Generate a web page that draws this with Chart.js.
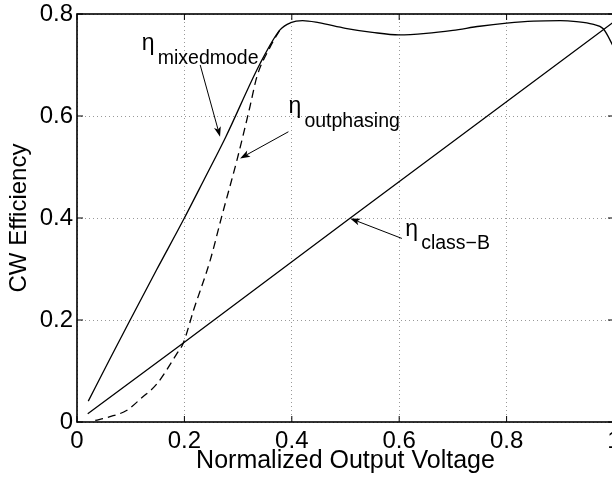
<!DOCTYPE html>
<html>
<head>
<meta charset="utf-8">
<script src="https://cdn.jsdelivr.net/npm/chart.js@4.4.1/dist/chart.umd.min.js"></script>
<style>
  html, body { margin: 0; padding: 0; background: #fff; overflow: hidden; }
  #wrap { width: 622px; height: 480px; }
</style>
</head>
<body>
<div id="wrap"><canvas id="chart" width="622" height="480"></canvas></div>
<script>
const FONT = '"Liberation Sans", Arial, Helvetica, sans-serif';

// values
const classBX = [0.02, 0.198, 0.509, 1.0];
const classBY = [0.016, 0.155, 0.400, 0.785];

const mixedX = [0.021, 0.06, 0.099, 0.148, 0.198, 0.237, 0.277, 0.341, 0.378, 0.398, 0.42, 0.45, 0.5, 0.55, 0.6, 0.65, 0.7, 0.75, 0.8, 0.85, 0.9, 0.93, 0.96, 0.98, 1.0];
const mixedY = [0.041, 0.121, 0.200, 0.298, 0.396, 0.476, 0.559, 0.703, 0.769, 0.783, 0.787, 0.783, 0.772, 0.764, 0.759, 0.762, 0.768, 0.776, 0.782, 0.786, 0.787, 0.785, 0.780, 0.771, 0.734];

const outphX = [0.034, 0.06, 0.093, 0.12, 0.149, 0.186, 0.198, 0.217, 0.248, 0.27, 0.298, 0.322, 0.335, 0.36, 0.378];
const outphY = [0.003, 0.010, 0.023, 0.047, 0.075, 0.134, 0.155, 0.219, 0.317, 0.405, 0.514, 0.618, 0.677, 0.736, 0.769];

const xTicks = [0, 0.2, 0.4, 0.6, 0.8, 1];
const yTicks = [0, 0.2, 0.4, 0.6, 0.8];

// text labels and arrows, in data units
const notes = [
  { sub: 'mixedmode',  at: [0.1206, 0.7294], from: [0.2294, 0.7001], to: [0.2664, 0.5592] },
  { sub: 'outphasing', at: [0.3937, 0.6058], from: [0.3937, 0.5691], to: [0.3037, 0.5168] },
  { sub: 'class\u2212B', at: [0.6111, 0.3656], from: [0.6050, 0.3599], to: [0.5087, 0.3991] }
];

function toPoints(xs, ys) {
  return xs.map((v, i) => ({ x: v, y: ys[i] }));
}

const framePlugin = {
  id: 'frame',
  afterDatasetsDraw(chart) {
    const { ctx, chartArea: a, scales: { x, y } } = chart;
    ctx.save();
    ctx.strokeStyle = '#000';
    ctx.lineWidth = 1;
    ctx.beginPath();
    xTicks.forEach(v => {
      const px = x.getPixelForValue(v);
      ctx.moveTo(px, a.bottom); ctx.lineTo(px, a.bottom - 6);
      ctx.moveTo(px, a.top); ctx.lineTo(px, a.top + 6);
    });
    yTicks.forEach(v => {
      const py = y.getPixelForValue(v);
      ctx.moveTo(a.left, py); ctx.lineTo(a.left + 6, py);
      ctx.moveTo(a.right, py); ctx.lineTo(a.right - 6, py);
    });
    ctx.stroke();
    ctx.lineWidth = 1.6;
    ctx.strokeRect(a.left, a.top, a.right - a.left, a.bottom - a.top);
    ctx.restore();
  }
};

const notePlugin = {
  id: 'notes',
  afterDraw(chart) {
    const { ctx, scales: { x, y } } = chart;
    ctx.save();
    ctx.fillStyle = '#000';
    ctx.strokeStyle = '#000';
    notes.forEach(n => {
      const tx = x.getPixelForValue(n.at[0]);
      const ty = y.getPixelForValue(n.at[1]);
      ctx.textBaseline = 'alphabetic';
      ctx.textAlign = 'left';
      ctx.font = '23px ' + FONT;
      ctx.fillText('\u03B7', tx, ty);
      ctx.font = '19.5px ' + FONT;
      ctx.fillText(n.sub, tx + 16, ty + 13.5);

      const x0 = x.getPixelForValue(n.from[0]), y0 = y.getPixelForValue(n.from[1]);
      const x1 = x.getPixelForValue(n.to[0]), y1 = y.getPixelForValue(n.to[1]);
      const ang = Math.atan2(y1 - y0, x1 - x0);
      const len = 10, half = 3.5, notch = 7.5;
      ctx.lineWidth = 1;
      ctx.beginPath();
      ctx.moveTo(x0, y0);
      ctx.lineTo(x1 - Math.cos(ang) * notch, y1 - Math.sin(ang) * notch);
      ctx.stroke();
      ctx.beginPath();
      ctx.moveTo(x1, y1);
      ctx.lineTo(x1 - Math.cos(ang) * len - Math.sin(ang) * half, y1 - Math.sin(ang) * len + Math.cos(ang) * half);
      ctx.lineTo(x1 - Math.cos(ang) * notch, y1 - Math.sin(ang) * notch);
      ctx.lineTo(x1 - Math.cos(ang) * len + Math.sin(ang) * half, y1 - Math.sin(ang) * len - Math.cos(ang) * half);
      ctx.closePath();
      ctx.fill();
    });
    ctx.restore();
  }
};

const gridStyle = { color: 'rgba(0,0,0,0.4)', lineWidth: 1, drawTicks: false };

new Chart(document.getElementById('chart'), {
  type: 'line',
  data: {
    datasets: [
      {
        label: 'class-B',
        data: toPoints(classBX, classBY),
        borderColor: '#000',
        borderWidth: 1.3,
        pointRadius: 0,
        tension: 0
      },
      {
        label: 'mixed mode',
        data: toPoints(mixedX, mixedY),
        borderColor: '#000',
        borderWidth: 1.3,
        pointRadius: 0,
        cubicInterpolationMode: 'monotone'
      },
      {
        label: 'outphasing',
        data: toPoints(outphX, outphY),
        borderColor: '#000',
        borderWidth: 1.3,
        borderDash: [8, 5],
        pointRadius: 0,
        cubicInterpolationMode: 'monotone'
      }
    ]
  },
  options: {
    responsive: false,
    animation: false,
    devicePixelRatio: 1,
    layout: { padding: { left: 0, top: 14, right: 8, bottom: 0 } },
    plugins: {
      legend: { display: false },
      tooltip: { enabled: false }
    },
    scales: {
      x: {
        type: 'linear',
        min: 0,
        max: 1,
        grid: gridStyle,
        border: { display: false, dash: [1, 3] },
        afterBuildTicks: s => { s.ticks = xTicks.map(v => ({ value: v })); },
        afterFit: s => { s.height = 58; s.paddingLeft = 0; s.paddingRight = 0; s.paddingTop = 0; s.paddingBottom = 0; },
        ticks: {
          color: '#000',
          padding: 5,
          maxRotation: 0,
          font: { family: FONT, size: 24 },
          callback: v => String(v)
        },
        title: {
          display: true,
          text: 'Normalized Output Voltage',
          color: '#000',
          padding: { top: 0, bottom: 4 },
          font: { family: FONT, size: 25 }
        }
      },
      y: {
        type: 'linear',
        min: 0,
        max: 0.8,
        grid: gridStyle,
        border: { display: false, dash: [1, 3] },
        afterBuildTicks: s => { s.ticks = yTicks.map(v => ({ value: v })); },
        afterFit: s => { s.width = 77; s.paddingLeft = 0; s.paddingRight = 0; s.paddingTop = 0; s.paddingBottom = 0; },
        ticks: {
          color: '#000',
          padding: 4,
          font: { family: FONT, size: 24 },
          callback: v => String(v)
        },
        title: {
          display: true,
          text: 'CW Efficiency',
          color: '#000',
          padding: { top: 5, bottom: 0 },
          font: { family: FONT, size: 24 }
        }
      }
    }
  },
  plugins: [framePlugin, notePlugin]
});
</script>
</body>
</html>
